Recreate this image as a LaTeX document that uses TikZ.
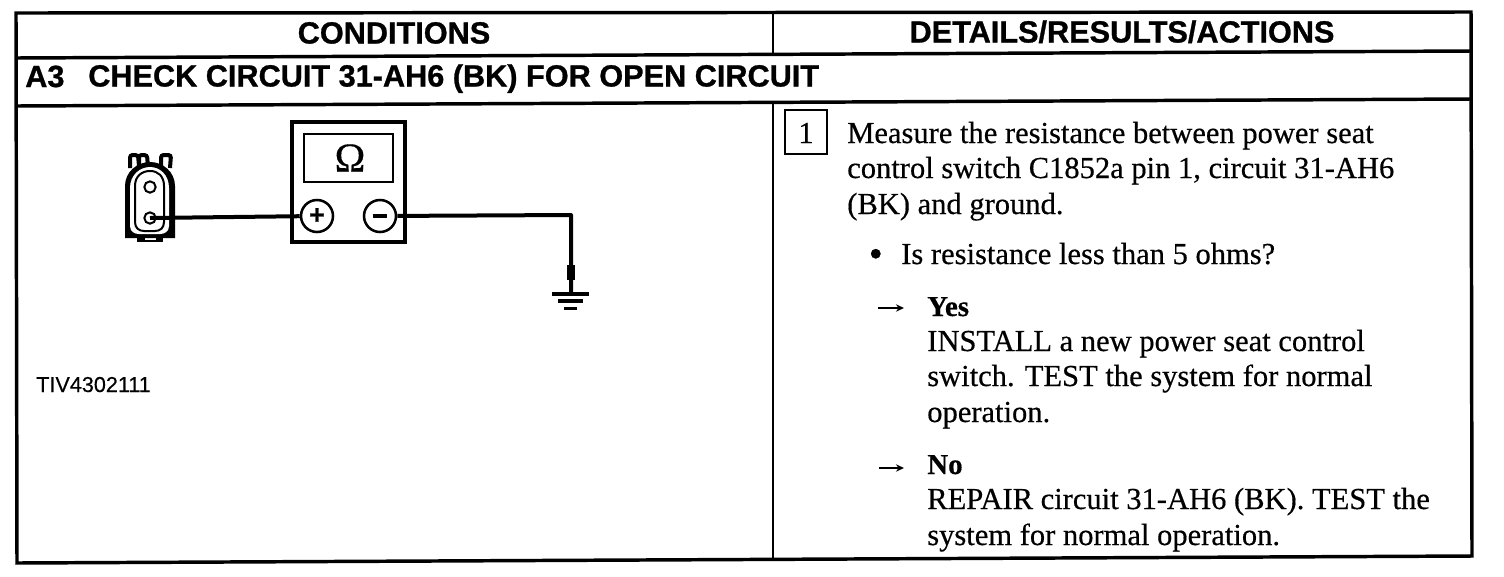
\documentclass[tikz,border=0pt]{standalone}
\usepackage{fontspec}
\setmainfont{Liberation Serif}
\newfontfamily\hdr[FakeBold=0.9]{Liberation Sans}
\newfontfamily\tagf[FakeBold=0.3]{Liberation Sans}
\newfontfamily\bodyf[FakeBold=0.45]{Liberation Serif}
\usetikzlibrary{arrows.meta}
\tikzset{
 x=0.75pt,y=-0.75pt,
 frame/.style={line width=2.6pt,black},
 thin frame/.style={line width=1.9pt,black},
 wire/.style={line width=3pt,black},
 head/.style={font=\hdr\bfseries\fontsize{23}{23}\selectfont,anchor=base,inner sep=0pt},
 body/.style={font=\bodyf\fontsize{22.9}{22.9}\selectfont,anchor=base west,inner sep=0pt},
 bodybold/.style={font=\bodyf\bfseries\fontsize{21.7}{21.7}\selectfont,anchor=base west,inner sep=0pt},
 term/.style={circle,draw=black,line width=1.9pt,minimum size=24pt,inner sep=0pt,fill=white,font=\hdr\bfseries\fontsize{20}{20}\selectfont},
 pin/.style={circle,draw=black,line width=1.5pt,minimum size=8.5pt,inner sep=0pt,fill=white},
 arrowmark/.style={line width=1.5pt,-{Stealth[length=6pt,width=5.5pt]}},
 gndbar/.style={line width=2.4pt},
}
\begin{document}
\begin{tikzpicture}
\useasboundingbox (0,0) rectangle (1504,576);
\fill[white] (0,0) rectangle (1504,576);
% table
\draw[frame] (16,13) -- (1471,12) -- (1472,556) -- (17,563) -- cycle;
\draw[frame] (16,58) -- (1471,51);
\draw[frame] (16,106) -- (1471,99);
\draw[thin frame] (773,13) -- (773,54.5);
\draw[thin frame] (773,102.5) -- (773,559.5);
\node[head] (h1) at (394,43.5) {CONDITIONS};
\node[head] (h2) at (1122,42.5) {DETAILS/RESULTS/ACTIONS};
\node[head,anchor=base west] (a3) at (25,87) {A3};
\node[head,anchor=base west] (a3t) at (88,86.5) {CHECK CIRCUIT 31-AH6 (BK) FOR OPEN CIRCUIT};
% connector: ears
\draw[line width=3pt,rounded corners=2pt] (130,168) -- (130,155) -- (138,155) -- (139,166) (139,166) -- (139,155) -- (147,155) -- (148,167);
\draw[line width=3pt,rounded corners=2pt] (161,167) -- (161,155) -- (171,155) -- (170,168);
% connector: shell
\fill[black] (137,232) rectangle (163,242);
\fill[white] (145,235.5) rectangle (156,240);
\fill[black] (125,238) -- (125,186) .. controls (125,172) and (137,162) .. (150,162) .. controls (163,162) and (175,172) .. (175,186) -- (175,238) -- cycle;
\fill[white] (130,226) -- (130,188) .. controls (130,175) and (140,167) .. (150,167) .. controls (160,167) and (169,175) .. (169,188) -- (169,226) .. controls (169,232) and (164,234) .. (160,234) -- (139,234) .. controls (135,234) and (130,232) .. (130,226) -- cycle;
\draw[line width=1.5pt] (135,222) -- (135,186) .. controls (135,176) and (142,171) .. (150,171) .. controls (158,171) and (164,176) .. (164,186) -- (164,222) .. controls (164,228) and (160,231) .. (155,231) -- (144,231) .. controls (139,231) and (135,228) .. (135,222) -- cycle;
\node[pin] (pin1) at (150,187) {};
\node[pin] (pin2) at (150,218) {};
% meter
\draw[line width=2.6pt] (292,122) rectangle (405,242);
\draw[line width=1.7pt] (304,134) rectangle (393,182);
\node[inner sep=0pt,font=\bodyf\fontsize{31}{31}\selectfont] (om) at (350,158) {Ω};
\node[term] (plus) at (317,216) {+};
\node[term] (minus) at (380,216) {\raisebox{0.5pt}{\rule{11pt}{2.8pt}}};
\coordinate (corner) at (571,215);
\coordinate (gnd) at (571,293);
\draw[wire] (pin2.center) -- (plus);
\draw[wire,line join=round] (minus) -- (corner) -- (gnd);
\draw[line width=6pt] (571,265) -- (571,280);
\draw[gndbar] (552,294) -- (589,294);
\draw[gndbar] (558,301) -- (583,301);
\draw[gndbar] (564,308.5) -- (577,308.5);
\node[anchor=base west,inner sep=0pt,font=\tagf\fontsize{16.2}{16.2}\selectfont] (tiv) at (36,392) {TIV4302111};
% right column
\node[draw=black,line width=1.5pt,minimum width=32pt,minimum height=33.5pt,inner sep=0pt] (one) at (806,132) {};
\node[body,anchor=base] (onet) at (806,143) {1};
\node[body] (l1) at (847,143) {Measure the resistance between power seat};
\node[body] (l2) at (847,178) {control switch C1852a pin 1, circuit 31-AH6};
\node[body] (l3) at (847,214) {(BK) and ground.};
\node[body,font=\bodyf\fontsize{30}{30}\selectfont] (bu) at (868.5,267) {•};
\node[body] (l4) at (901,264) {Is resistance less than 5 ohms?};
\node[bodybold] (y) at (927,316) {Yes};
\node[body] (l5) at (927,351) {INSTALL a new power seat control};
\node[body] (l6) at (927,386) {switch. TEST the system for normal};
\node[body] (l7) at (927,422) {operation.};
\node[bodybold] (n) at (927,474) {No};
\node[body] (l8) at (927,509) {REPAIR circuit 31-AH6 (BK). TEST the};
\node[body] (l9) at (927,545) {system for normal operation.};
\coordinate (ya) at (878,308); \coordinate (yb) at (904,308);
\coordinate (na) at (879,468); \coordinate (nb) at (904,468);
\draw[arrowmark] (ya) -- (yb);
\draw[arrowmark] (na) -- (nb);
\end{tikzpicture}
\end{document}
